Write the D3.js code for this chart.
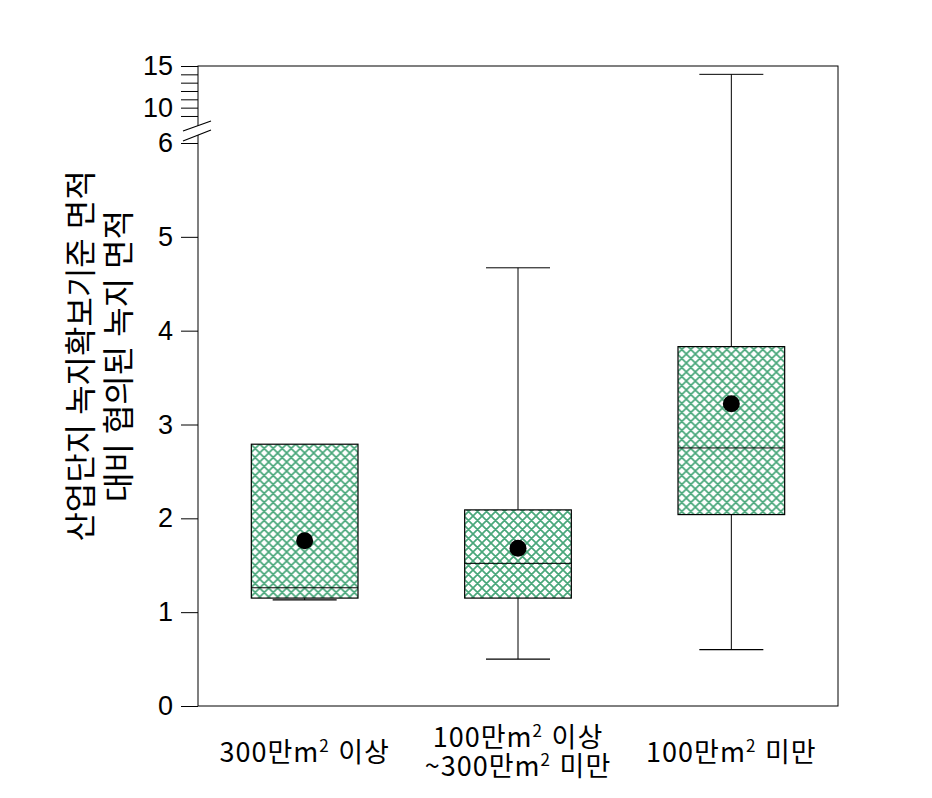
<!DOCTYPE html>
<html lang="ko">
<head>
<meta charset="UTF-8">
<script src="https://d3js.org/d3.v7.min.js"></script>
<style>
    body { margin: 0; background: #fff; }
    .axis text { font: 27px "Liberation Sans", Arial, sans-serif; fill: #000; }
    .axis line { stroke: #000; }
    .lbl { font-family: "Noto Sans CJK KR", sans-serif; fill: #000; }
</style>
</head>
<body>
<svg id="chart" width="932" height="798"></svg>
<script>
    // data
    const categories = [['300만m|2| 이상'], ['100만m|2| 이상', '~300만m|2| 미만'], ['100만m|2| 미만']];
    const mins = [1.13, 0.50, 0.60];
    const q1s = [1.15, 1.15, 2.04];
    const medians = [1.26, 1.52, 2.75];
    const q3s = [2.79, 2.09, 3.83];
    const maxs = [2.79, 4.67, 14.0];
    const means = [1.76, 1.68, 3.22];
    const tickValues = [0, 1, 2, 3, 4, 5, 6, 9, 10, 11, 12, 13, 14, 15];
    const tickLabels = [0, 1, 2, 3, 4, 5, 6, 10, 15];
    const yTitle = ['산업단지 녹지확보기준 면적', '대비 협의된 녹지 면적'];

    const margin = { top: 66, left: 198, right: 94, bottom: 92 };
    const width = 932 - margin.left - margin.right,
        height = 798 - margin.top - margin.bottom;

    const svg = d3.select('#chart');
    const g = svg.append('g').attr('transform', `translate(${margin.left},${margin.top})`);

    // broken y axis: 0-6 below the break, 9-15 compressed above
    const y = d3.scaleLinear().domain([0, 6, 8, 15]).range([height, 77, 58.3, 0]);
    const x = d3.scaleBand().domain(d3.range(categories.length)).range([0, width]);
    const boxW = x.bandwidth() * 0.5, capW = x.bandwidth() * 0.3;

    // hatch pattern
    const pat = svg.append('defs').append('pattern')
        .attr('id', 'hatch').attr('patternUnits', 'userSpaceOnUse')
        .attr('width', 9).attr('height', 9);
    pat.append('rect').attr('width', 9).attr('height', 9).attr('fill', '#fff');
    pat.append('path').attr('d', 'M-1,1 l2,-2 M0,9 l9,-9 M8,10 l2,-2 M-1,8 l2,2 M0,0 l9,9 M8,-1 l2,2')
        .attr('stroke', '#4aa77b').attr('stroke-width', 1.7);

    const yAxis = g.append('g').attr('class', 'axis')
        .call(d3.axisLeft(y).tickValues(tickValues).tickSize(17).tickPadding(8)
            .tickFormat(d => tickLabels.includes(d) ? d : ''));
    yAxis.select('.domain').remove();

    // frame
    g.append('rect').attr('width', width).attr('height', height)
        .attr('fill', 'none').attr('stroke', '#000');

    // axis break
    const bk = g.append('g');
    bk.append('path').attr('d', 'M-15,65 L13,55 L13,64 L-15,75 Z').attr('fill', '#fff');
    bk.append('path').attr('d', 'M-15,65 L13,55 M-15,75 L13,64').attr('stroke', '#000').attr('stroke-width', 1.2);

    const boxes = g.selectAll('.box').data(categories.map((c, i) => i)).enter()
        .append('g').attr('transform', i => `translate(${x(i) + x.bandwidth() / 2},0)`);

    // whiskers
    boxes.filter(i => maxs[i] > q3s[i]).append('line')
        .attr('y1', i => y(q3s[i])).attr('y2', i => y(maxs[i])).attr('stroke', '#000');
    boxes.filter(i => maxs[i] > q3s[i]).append('line')
        .attr('x1', -capW / 2).attr('x2', capW / 2)
        .attr('y1', i => y(maxs[i])).attr('y2', i => y(maxs[i])).attr('stroke', '#000');
    boxes.append('line')
        .attr('y1', i => y(q1s[i])).attr('y2', i => y(mins[i])).attr('stroke', '#000');
    boxes.append('line')
        .attr('x1', -capW / 2).attr('x2', capW / 2)
        .attr('y1', i => y(mins[i])).attr('y2', i => y(mins[i])).attr('stroke', '#000').attr('stroke-width', 1.3);

    boxes.append('rect')
        .attr('x', -boxW / 2).attr('width', boxW)
        .attr('y', i => y(q3s[i])).attr('height', i => y(q1s[i]) - y(q3s[i]))
        .attr('fill', 'url(#hatch)').attr('stroke', '#000').attr('stroke-width', 1.2);
    boxes.append('line')
        .attr('x1', -boxW / 2).attr('x2', boxW / 2)
        .attr('y1', i => y(medians[i])).attr('y2', i => y(medians[i])).attr('stroke', '#000');
    boxes.append('circle').attr('r', 8.5).attr('cy', i => y(means[i])).attr('fill', '#000');

    // category labels with superscript 2, one text per line
    boxes.each(function (i) {
        const lines = categories[i];
        const base = lines.length === 1 ? height + 56 : height + 41;
        lines.forEach((ln, k) => {
            const parts = ln.split('|');
            const t = d3.select(this).append('text').attr('class', 'lbl')
                .attr('text-anchor', 'middle').style('font-size', '27px')
                .style('letter-spacing', '1px')
                .attr('x', 0).attr('y', base + k * 29);
            t.append('tspan').text(parts[0]);
            t.append('tspan').attr('dy', -10).style('font-size', '17px').text(parts[1]);
            t.append('tspan').attr('dy', 10).text(parts[2]);
        });
    });

    // y axis title
    yTitle.forEach((s, k) => svg.append('text').attr('class', 'lbl')
        .attr('transform', `translate(${92 + k * 38},356) rotate(-90)`)
        .attr('text-anchor', 'middle').style('font-size', '32px').text(s));
</script>
</body>
</html>
